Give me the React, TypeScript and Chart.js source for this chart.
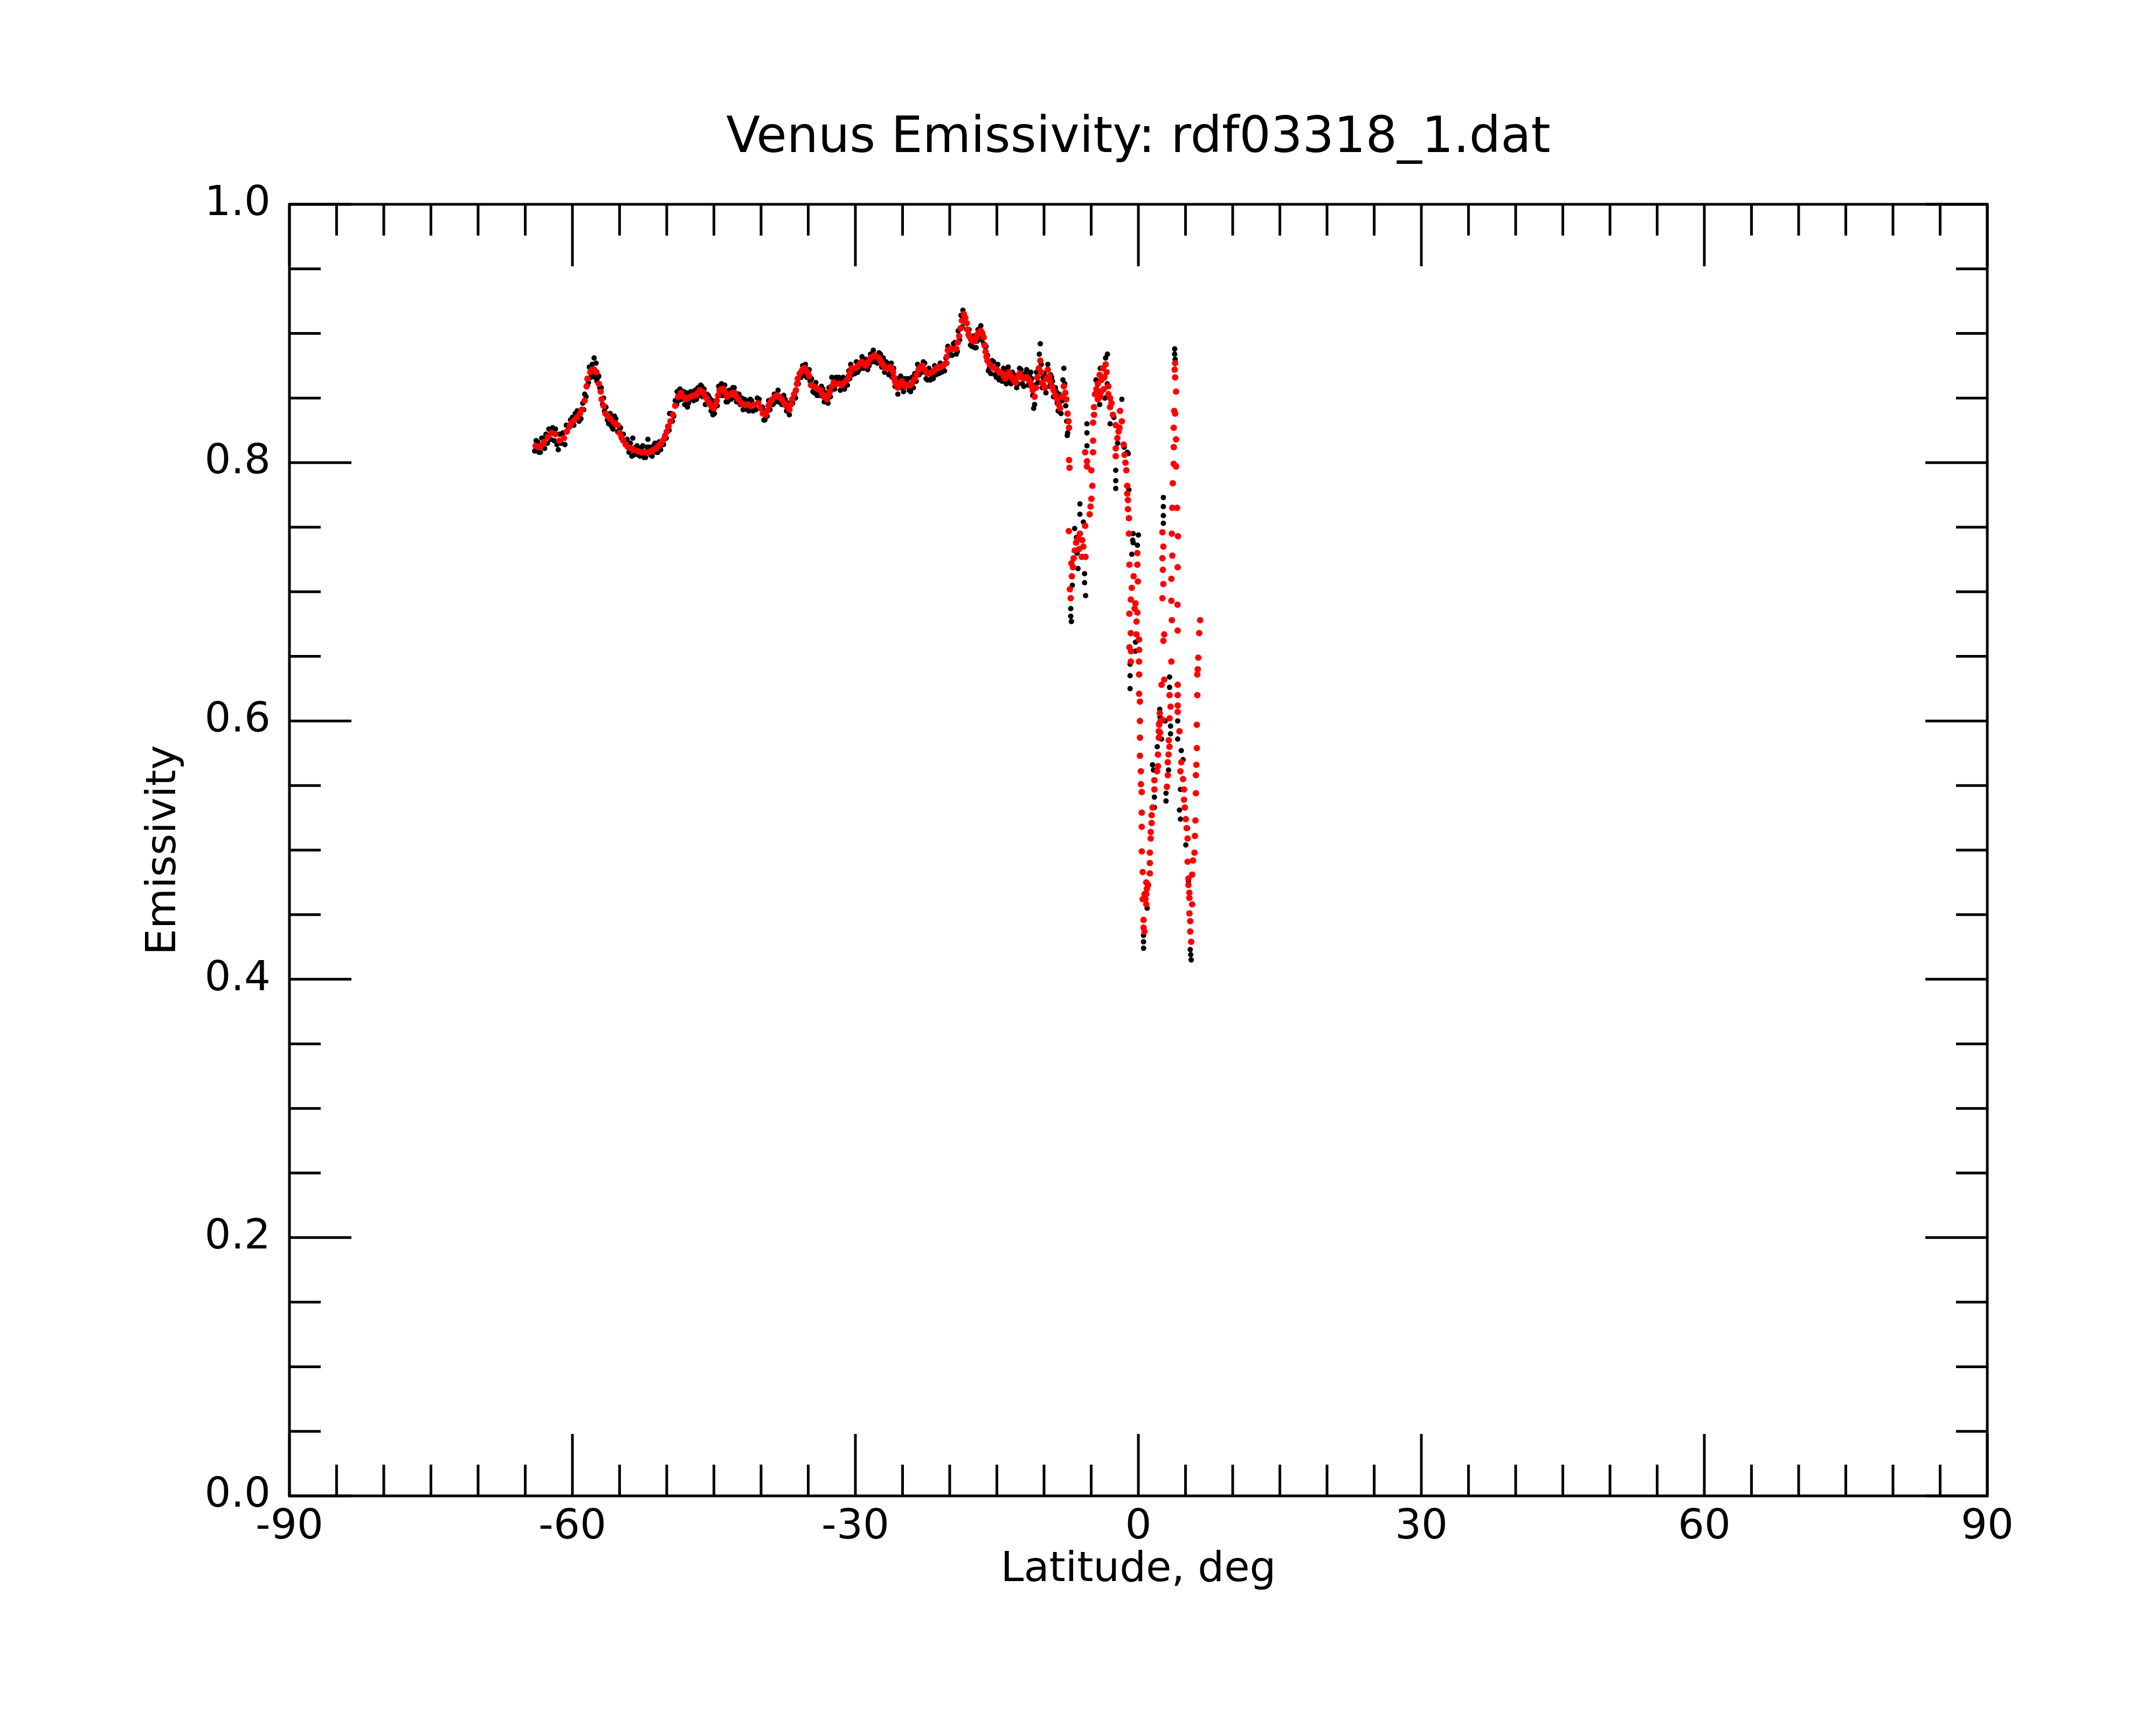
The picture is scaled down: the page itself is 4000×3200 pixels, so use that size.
import React, { useRef, useEffect } from 'react';
import { Chart, registerables } from 'chart.js';

Chart.register(...registerables);

const FONT = '"DejaVu Sans", sans-serif';

const chartTitle = 'Venus Emissivity: rdf03318_1.dat';
const xAxisLabel = 'Latitude, deg';
const yAxisLabel = 'Emissivity';
const xTickValues = [-90, -60, -30, 0, 30, 60, 90];
const yTickValues = [0, 0.2, 0.4, 0.6, 0.8, 1.0];

// [latitude, emissivity]
// red = smoothed profile, main band south of -7 deg
const redBand = [
  [-63.9, 0.813], [-63.5, 0.812], [-63.2, 0.814], [-63.0, 0.816], [-62.6, 0.820], [-62.2, 0.823], [-61.8, 0.822],
  [-61.4, 0.817], [-60.9, 0.819], [-60.6, 0.824], [-60.3, 0.828], [-60.1, 0.831], [-59.8, 0.833], [-59.5, 0.835],
  [-59.2, 0.838], [-59.0, 0.841], [-58.7, 0.848], [-58.5, 0.859], [-58.4, 0.865], [-58.1, 0.870], [-57.9, 0.872],
  [-57.7, 0.872], [-57.45, 0.870], [-57.2, 0.861], [-57.0, 0.855], [-56.9, 0.849], [-56.7, 0.844], [-56.5, 0.838],
  [-56.25, 0.836], [-56.0, 0.834], [-55.6, 0.831], [-55.4, 0.830], [-55.2, 0.829], [-55.0, 0.823], [-54.8, 0.820],
  [-54.6, 0.817], [-54.35, 0.814], [-54.1, 0.812], [-53.8, 0.811], [-53.5, 0.810], [-53.1, 0.809], [-52.7, 0.808],
  [-52.3, 0.808], [-51.9, 0.808], [-51.6, 0.809], [-51.4, 0.810], [-51.1, 0.811], [-50.9, 0.813], [-50.6, 0.815],
  [-50.4, 0.817], [-50.2, 0.820], [-50.0, 0.824], [-49.8, 0.828], [-49.6, 0.832], [-49.35, 0.837], [-49.1, 0.844],
  [-48.8, 0.851], [-48.5, 0.854], [-48.25, 0.851], [-48.0, 0.849], [-47.8, 0.850], [-47.5, 0.851], [-47.2, 0.852],
  [-46.9, 0.852], [-46.7, 0.854], [-46.5, 0.856], [-46.3, 0.855], [-46.1, 0.854], [-45.9, 0.851], [-45.7, 0.849],
  [-45.5, 0.846], [-45.3, 0.844], [-45.0, 0.842], [-44.85, 0.845], [-44.7, 0.848], [-44.55, 0.852], [-44.4, 0.856],
  [-44.2, 0.857], [-44.0, 0.857], [-43.8, 0.854], [-43.6, 0.851], [-43.4, 0.852], [-43.2, 0.853], [-43.0, 0.854],
  [-42.8, 0.854], [-42.6, 0.851], [-42.4, 0.849], [-42.1, 0.846], [-41.8, 0.845], [-41.5, 0.845], [-41.1, 0.844],
  [-40.7, 0.845], [-40.3, 0.846], [-40.05, 0.842], [-39.8, 0.838], [-39.5, 0.837], [-39.35, 0.840], [-39.2, 0.844],
  [-39.0, 0.847], [-38.8, 0.849], [-38.55, 0.851], [-38.3, 0.852], [-38.05, 0.851], [-37.8, 0.849], [-37.55, 0.846],
  [-37.35, 0.844], [-37.0, 0.841], [-36.85, 0.845], [-36.7, 0.849], [-36.5, 0.853], [-36.3, 0.856], [-36.2, 0.861],
  [-36.1, 0.865], [-35.9, 0.869], [-35.7, 0.871], [-35.5, 0.873], [-35.3, 0.873], [-35.1, 0.870], [-34.9, 0.867],
  [-34.7, 0.860], [-34.45, 0.859], [-34.2, 0.858], [-33.95, 0.857], [-33.7, 0.856], [-33.5, 0.853], [-33.35, 0.851],
  [-33.0, 0.849], [-32.85, 0.852], [-32.7, 0.855], [-32.5, 0.859], [-32.3, 0.862], [-32.0, 0.861], [-31.7, 0.861],
  [-31.45, 0.860], [-31.2, 0.862], [-30.9, 0.864], [-30.7, 0.867], [-30.55, 0.870], [-30.4, 0.873], [-30.1, 0.873],
  [-29.8, 0.874], [-29.6, 0.876], [-29.35, 0.878], [-29.1, 0.877], [-28.9, 0.875], [-28.7, 0.877], [-28.5, 0.880],
  [-28.25, 0.882], [-28.0, 0.883], [-27.75, 0.882], [-27.5, 0.881], [-27.35, 0.879], [-27.2, 0.877], [-27.0, 0.875],
  [-26.8, 0.873], [-26.55, 0.873], [-26.3, 0.874], [-26.15, 0.872], [-26.0, 0.870], [-25.9, 0.866], [-25.8, 0.863],
  [-25.65, 0.860], [-25.5, 0.858], [-25.3, 0.861], [-25.1, 0.863], [-24.9, 0.861], [-24.7, 0.859], [-24.45, 0.860],
  [-24.2, 0.860], [-23.95, 0.862], [-23.7, 0.865], [-23.5, 0.868], [-23.3, 0.872], [-23.1, 0.874], [-22.9, 0.875],
  [-22.65, 0.872], [-22.4, 0.869], [-22.15, 0.869], [-21.9, 0.870], [-21.65, 0.871], [-21.4, 0.873], [-21.2, 0.874],
  [-21.0, 0.874], [-20.7, 0.875], [-20.4, 0.877], [-20.3, 0.882], [-20.2, 0.887], [-19.95, 0.888], [-19.7, 0.888],
  [-19.5, 0.888], [-19.3, 0.888], [-19.15, 0.893], [-19.0, 0.898], [-18.85, 0.904], [-18.7, 0.910], [-18.5, 0.915],
  [-18.35, 0.912], [-18.2, 0.908], [-18.1, 0.903], [-18.0, 0.899], [-17.85, 0.897], [-17.7, 0.895], [-17.5, 0.894],
  [-17.35, 0.894], [-17.2, 0.897], [-17.1, 0.899], [-16.9, 0.901], [-16.7, 0.902], [-16.55, 0.900], [-16.4, 0.897],
  [-16.3, 0.891], [-16.2, 0.886], [-16.1, 0.882], [-16.0, 0.879], [-15.75, 0.876], [-15.5, 0.874], [-15.25, 0.873],
  [-15.0, 0.872], [-14.7, 0.870], [-14.4, 0.869], [-14.25, 0.867], [-14.1, 0.865], [-13.9, 0.868], [-13.7, 0.870],
  [-13.5, 0.867], [-13.35, 0.865], [-13.15, 0.863], [-13.0, 0.862], [-12.8, 0.866], [-12.6, 0.869], [-12.4, 0.867],
  [-12.2, 0.865], [-12.0, 0.866], [-11.8, 0.866], [-11.6, 0.864], [-11.45, 0.862], [-11.3, 0.859], [-11.2, 0.856],
  [-11.0, 0.851], [-10.85, 0.858], [-10.7, 0.866], [-10.55, 0.873], [-10.4, 0.879], [-10.3, 0.870], [-10.2, 0.862],
  [-10.05, 0.860], [-9.9, 0.858], [-9.75, 0.865], [-9.6, 0.872], [-9.45, 0.867], [-9.35, 0.863], [-9.15, 0.859],
  [-9.0, 0.856], [-8.8, 0.852], [-8.6, 0.849], [-8.45, 0.845], [-8.3, 0.842], [-8.1, 0.851], [-7.9, 0.859],
  [-7.75, 0.854], [-7.65, 0.849], [-7.5, 0.838], [-7.4, 0.832], [-7.35, 0.827],
];

// red, the broken part near the equator
const redTail = [
  [-7.35, 0.802], [-7.3, 0.796],
  [-7.37, 0.747], [-6.2, 0.745], [-6.75, 0.732], [-5.83, 0.735], [-6.93, 0.719], [-6.0, 0.727], [-7.26, 0.702],
  [-7.17, 0.695], [-6.4, 0.741], [-5.6, 0.727], [-6.6, 0.738], [-7.05, 0.712], [-6.3, 0.733], [-6.85, 0.726],
  [-7.1, 0.722], [-5.95, 0.740],
  [-5.64, 0.751], [-5.16, 0.760], [-5.07, 0.766], [-4.98, 0.772], [-4.88, 0.782], [-4.98, 0.794], [-5.45, 0.797],
  [-5.45, 0.801], [-5.64, 0.808], [-4.8, 0.808], [-4.8, 0.817], [-4.8, 0.831], [-4.7, 0.837], [-4.7, 0.843],
  [-4.6, 0.853], [-4.3, 0.861], [-4.1, 0.868], [-3.75, 0.873], [-3.47, 0.876], [-3.37, 0.870], [-3.66, 0.857],
  [-4.04, 0.851], [-3.18, 0.859], [-3.18, 0.853], [-4.3, 0.849], [-3.94, 0.855], [-3.9, 0.864], [-4.45, 0.857],
  [-3.6, 0.866],
  [-3.0, 0.850], [-3.0, 0.843], [-2.7, 0.837], [-2.4, 0.829], [-2.1, 0.824], [-1.94, 0.840], [-2.23, 0.819],
  [-2.4, 0.811], [-2.4, 0.805], [-1.56, 0.814], [-1.47, 0.806], [-1.37, 0.800], [-1.28, 0.794], [-2.0, 0.827],
  [-1.75, 0.832], [-2.85, 0.846],
  [-1.18, 0.782], [-1.18, 0.776], [-1.1, 0.771], [-1.1, 0.764], [-1.0, 0.757], [-1.0, 0.745],
  [-0.11, 0.730], [-0.95, 0.721], [-0.11, 0.721], [-0.5, 0.712], [-0.05, 0.708], [-0.7, 0.703], [-0.8, 0.694],
  [-0.3, 0.691], [-0.95, 0.683], [-0.4, 0.687], [-0.1, 0.684], [-0.2, 0.677], [-0.8, 0.668], [-0.2, 0.667],
  [0.07, 0.663], [-0.95, 0.657], [-0.8, 0.646], [0.07, 0.646], [-0.78, 0.654], [0.08, 0.655], [0.08, 0.636],
  [0.08, 0.621], [0.17, 0.615], [0.17, 0.600], [0.17, 0.587], [0.17, 0.573], [0.27, 0.561], [0.27, 0.551],
  [0.36, 0.545], [0.36, 0.529], [0.36, 0.518], [0.36, 0.499], [0.46, 0.483], [0.46, 0.462], [0.55, 0.446],
  [0.55, 0.440], [0.65, 0.437],
  [0.84, 0.475], [0.84, 0.466], [0.84, 0.458], [0.65, 0.466], [1.03, 0.473], [1.22, 0.490], [1.22, 0.482],
  [1.22, 0.498], [1.31, 0.509], [1.31, 0.514], [1.41, 0.521], [1.41, 0.527], [1.50, 0.533], [1.70, 0.547],
  [1.70, 0.554], [1.98, 0.561], [2.08, 0.565], [0.9, 0.470], [0.75, 0.462],
  [2.27, 0.606], [2.36, 0.600], [2.17, 0.592], [2.17, 0.587], [2.55, 0.601], [2.08, 0.574], [2.2, 0.597],
  [2.3, 0.591], [2.74, 0.632], [2.46, 0.628], [3.5, 0.646],
  [3.31, 0.620], [3.41, 0.611], [3.31, 0.602], [3.22, 0.585], [3.12, 0.568], [3.12, 0.558], [3.03, 0.549],
  [3.3, 0.580], [3.2, 0.574],
  [4.17, 0.628], [4.17, 0.620], [4.17, 0.612], [4.17, 0.607], [4.36, 0.592],
  [4.55, 0.568], [4.46, 0.561], [4.74, 0.555], [4.84, 0.547], [4.84, 0.539], [4.93, 0.533], [5.03, 0.524],
  [5.12, 0.517], [5.22, 0.509],
  [5.22, 0.491], [5.79, 0.492], [5.70, 0.481], [5.31, 0.478], [5.31, 0.473], [5.41, 0.467], [5.41, 0.463],
  [5.70, 0.458], [5.41, 0.451], [5.50, 0.445], [5.50, 0.437], [5.60, 0.429],
  [6.55, 0.678], [6.45, 0.668], [6.35, 0.649], [6.3, 0.640], [6.25, 0.636], [6.25, 0.620], [6.2, 0.597],
  [6.2, 0.579], [6.15, 0.566], [6.1, 0.558], [6.1, 0.544], [6.05, 0.523], [5.95, 0.498], [6.0, 0.511],
  [3.9, 0.877], [3.85, 0.872], [3.9, 0.866], [4.0, 0.855], [3.8, 0.840], [3.9, 0.838], [3.75, 0.827],
  [4.0, 0.818], [3.75, 0.812], [3.75, 0.799], [4.0, 0.797], [3.65, 0.784], [3.6, 0.765], [4.1, 0.765],
  [2.55, 0.746], [2.65, 0.735], [2.55, 0.726], [2.65, 0.706], [2.55, 0.695], [2.74, 0.667], [2.65, 0.662],
  [3.6, 0.728], [4.17, 0.719], [3.5, 0.693], [4.17, 0.670], [3.55, 0.745], [4.2, 0.743], [4.15, 0.690],
  [3.5, 0.710], [2.6, 0.717], [3.55, 0.678],
];

// black = raw samples, main band (first pass)
const blackBand = [
  [-64.0, 0.809], [-63.7, 0.816], [-63.4, 0.808], [-63.1, 0.819], [-62.8, 0.822], [-62.5, 0.826], [-62.1, 0.827],
  [-61.8, 0.826], [-61.5, 0.810], [-61.2, 0.815], [-60.8, 0.814], [-60.4, 0.827], [-60.0, 0.835], [-59.7, 0.838],
  [-59.3, 0.832], [-58.9, 0.846], [-58.7, 0.853], [-58.4, 0.860], [-58.2, 0.874], [-57.9, 0.876], [-57.7, 0.881],
  [-57.5, 0.877], [-57.3, 0.866], [-57.1, 0.858], [-56.8, 0.845], [-56.6, 0.840], [-56.3, 0.833], [-56.0, 0.838],
  [-55.7, 0.826], [-55.4, 0.834], [-55.0, 0.826], [-54.8, 0.819], [-54.4, 0.814], [-54.0, 0.808], [-53.7, 0.805],
  [-53.6, 0.819], [-53.3, 0.812], [-53.0, 0.806], [-52.7, 0.811], [-52.4, 0.804], [-52.1, 0.812], [-52.0, 0.818],
  [-51.7, 0.806], [-51.4, 0.813], [-51.1, 0.808], [-50.8, 0.816], [-50.5, 0.814], [-50.2, 0.821], [-49.9, 0.828],
  [-49.7, 0.838], [-49.4, 0.832], [-49.1, 0.848], [-48.9, 0.855], [-48.6, 0.857], [-48.3, 0.850], [-48.1, 0.845],
  [-47.8, 0.843], [-47.6, 0.854], [-47.3, 0.849], [-47.0, 0.856], [-46.7, 0.858], [-46.4, 0.860], [-46.2, 0.851],
  [-45.9, 0.845], [-45.6, 0.852], [-45.3, 0.840], [-45.1, 0.837], [-44.8, 0.845], [-44.5, 0.859], [-44.2, 0.861],
  [-43.9, 0.853], [-43.7, 0.847], [-43.4, 0.856], [-43.0, 0.858], [-42.7, 0.850], [-42.5, 0.853], [-42.2, 0.845],
  [-41.9, 0.841], [-41.6, 0.848], [-41.3, 0.840], [-41.0, 0.848], [-40.7, 0.845], [-40.4, 0.850], [-40.0, 0.842],
  [-39.7, 0.833], [-39.5, 0.840], [-39.2, 0.848], [-38.9, 0.845], [-38.6, 0.853], [-38.2, 0.856], [-38.0, 0.847],
  [-37.6, 0.852], [-37.3, 0.840], [-37.0, 0.837], [-36.8, 0.845], [-36.5, 0.853], [-36.2, 0.861], [-35.9, 0.869],
  [-35.6, 0.875], [-35.3, 0.876], [-35.0, 0.870], [-34.8, 0.863], [-34.5, 0.855], [-34.2, 0.862], [-33.9, 0.853],
  [-33.6, 0.859], [-33.3, 0.847], [-33.0, 0.852], [-32.8, 0.858], [-32.5, 0.866], [-32.2, 0.857], [-31.9, 0.865],
  [-31.6, 0.856], [-31.3, 0.866], [-31.0, 0.860], [-30.7, 0.871], [-30.5, 0.876], [-30.2, 0.869], [-29.9, 0.878],
  [-29.6, 0.872], [-29.3, 0.882], [-29.0, 0.879], [-28.7, 0.872], [-28.4, 0.884], [-28.1, 0.887], [-27.8, 0.880],
  [-27.5, 0.885], [-27.2, 0.874], [-26.9, 0.870], [-26.6, 0.877], [-26.3, 0.869], [-26.1, 0.866], [-25.8, 0.859],
  [-25.5, 0.853], [-25.2, 0.867], [-24.9, 0.855], [-24.6, 0.863], [-24.3, 0.856], [-24.0, 0.866], [-23.7, 0.869],
  [-23.4, 0.876], [-23.1, 0.870], [-22.8, 0.878], [-22.5, 0.865], [-22.2, 0.873], [-21.9, 0.866], [-21.6, 0.875],
  [-21.3, 0.869], [-21.0, 0.877], [-20.7, 0.872], [-20.4, 0.881], [-20.2, 0.890], [-19.9, 0.884], [-19.6, 0.892],
  [-19.3, 0.884], [-19.1, 0.902], [-18.8, 0.914], [-18.6, 0.918], [-18.3, 0.912], [-18.1, 0.903], [-17.8, 0.891],
  [-17.5, 0.898], [-17.2, 0.889], [-17.0, 0.903], [-16.7, 0.906], [-16.5, 0.900], [-16.3, 0.890], [-16.0, 0.883],
  [-15.8, 0.873], [-15.5, 0.879], [-15.2, 0.868], [-14.9, 0.876], [-14.6, 0.866], [-14.3, 0.873], [-14.0, 0.861],
  [-13.8, 0.874], [-13.5, 0.861], [-13.2, 0.868], [-12.9, 0.858], [-12.6, 0.873], [-12.3, 0.861], [-12.0, 0.869],
  [-11.7, 0.860], [-11.4, 0.870], [-11.2, 0.852], [-11.1, 0.842], [-11.0, 0.845], [-10.8, 0.870], [-10.5, 0.884],
  [-10.4, 0.892], [-10.2, 0.858], [-10.0, 0.869], [-9.8, 0.854], [-9.6, 0.876], [-9.4, 0.859], [-9.2, 0.866],
  [-9.0, 0.851], [-8.8, 0.858], [-8.6, 0.846], [-8.4, 0.853], [-8.2, 0.838], [-8.0, 0.864], [-7.9, 0.873],
  [-7.7, 0.844], [-7.6, 0.832], [-7.54, 0.821], [-7.5, 0.823],
];

// black, main band (second pass, the other edge of the red line)
const blackBandEdge = [
  [-63.85, 0.817], [-63.55, 0.808], [-63.25, 0.819], [-62.95, 0.811], [-62.65, 0.815], [-62.3, 0.818],
  [-61.95, 0.817], [-61.65, 0.814], [-61.35, 0.822], [-61.0, 0.823], [-60.65, 0.829], [-60.2, 0.833],
  [-59.85, 0.829], [-59.5, 0.840], [-59.1, 0.834], [-58.8, 0.841], [-58.55, 0.851], [-58.3, 0.862],
  [-58.05, 0.866], [-57.8, 0.867], [-57.6, 0.866], [-57.4, 0.863], [-57.2, 0.867], [-56.95, 0.858],
  [-56.7, 0.850], [-56.45, 0.843], [-56.15, 0.830], [-55.85, 0.828], [-55.55, 0.836], [-55.2, 0.824],
  [-54.9, 0.827], [-54.6, 0.822], [-54.2, 0.818], [-53.85, 0.815], [-53.45, 0.806], [-53.15, 0.813],
  [-52.85, 0.805], [-52.55, 0.813], [-52.25, 0.804], [-51.85, 0.812], [-51.55, 0.805], [-51.25, 0.815],
  [-50.95, 0.808], [-50.65, 0.810], [-50.35, 0.814], [-50.05, 0.819], [-49.75, 0.825], [-49.55, 0.838],
  [-49.25, 0.836], [-48.95, 0.845], [-48.75, 0.848], [-48.45, 0.849], [-48.2, 0.855], [-47.95, 0.854],
  [-47.7, 0.846], [-47.45, 0.855], [-47.15, 0.848], [-46.85, 0.849], [-46.55, 0.852], [-46.3, 0.859],
  [-46.05, 0.857], [-45.75, 0.853], [-45.45, 0.850], [-45.2, 0.848], [-44.95, 0.838], [-44.65, 0.844],
  [-44.35, 0.852], [-44.05, 0.852], [-43.85, 0.860], [-43.55, 0.847], [-43.2, 0.849], [-42.85, 0.858],
  [-42.6, 0.847], [-42.35, 0.853], [-42.05, 0.850], [-41.75, 0.849], [-41.45, 0.841], [-41.15, 0.849],
  [-40.85, 0.840], [-40.55, 0.841], [-40.2, 0.849], [-39.85, 0.843], [-39.6, 0.833], [-39.35, 0.836],
  [-39.05, 0.841], [-38.75, 0.845], [-38.45, 0.847], [-38.1, 0.847], [-37.8, 0.845], [-37.45, 0.849],
  [-37.15, 0.846], [-36.95, 0.846], [-36.65, 0.846], [-36.35, 0.850], [-36.05, 0.861], [-35.75, 0.866],
  [-35.45, 0.868], [-35.15, 0.866], [-34.9, 0.872], [-34.65, 0.865], [-34.35, 0.854], [-34.05, 0.852],
  [-33.75, 0.852], [-33.45, 0.857], [-33.15, 0.854], [-32.9, 0.846], [-32.65, 0.851], [-32.35, 0.857],
  [-32.05, 0.866], [-31.75, 0.866], [-31.45, 0.865], [-31.15, 0.857], [-30.85, 0.860], [-30.6, 0.865],
  [-30.35, 0.868], [-30.05, 0.869], [-29.75, 0.870], [-29.45, 0.873], [-29.15, 0.873], [-28.85, 0.880],
  [-28.55, 0.875], [-28.25, 0.878], [-27.95, 0.878], [-27.65, 0.877], [-27.35, 0.884], [-27.05, 0.881],
  [-26.75, 0.878], [-26.45, 0.868], [-26.2, 0.877], [-25.95, 0.873], [-25.65, 0.865], [-25.35, 0.865],
  [-25.05, 0.858], [-24.75, 0.865], [-24.45, 0.865], [-24.15, 0.855], [-23.85, 0.858], [-23.55, 0.863],
  [-23.25, 0.868], [-22.95, 0.870], [-22.65, 0.877], [-22.35, 0.864], [-22.05, 0.864], [-21.75, 0.865],
  [-21.45, 0.868], [-21.15, 0.869], [-20.85, 0.870], [-20.55, 0.871], [-20.3, 0.877], [-20.05, 0.883],
  [-19.75, 0.883], [-19.45, 0.893], [-19.2, 0.886], [-18.95, 0.895], [-18.7, 0.905], [-18.45, 0.909],
  [-18.2, 0.903], [-17.95, 0.903], [-17.65, 0.890], [-17.35, 0.889], [-17.1, 0.894], [-16.85, 0.896],
  [-16.6, 0.895], [-16.4, 0.892], [-16.15, 0.890], [-15.9, 0.871], [-15.65, 0.869], [-15.35, 0.878],
  [-15.05, 0.866], [-14.75, 0.864], [-14.45, 0.863], [-14.15, 0.871], [-13.85, 0.863], [-13.65, 0.864],
  [-13.35, 0.870], [-13.05, 0.867], [-12.75, 0.861], [-12.45, 0.872], [-12.15, 0.859], [-11.85, 0.872],
  [-11.55, 0.868], [-11.3, 0.865], [-10.95, 0.860], [-10.65, 0.862], [-10.3, 0.876], [-10.1, 0.866],
  [-9.85, 0.865], [-9.5, 0.864], [-9.3, 0.868], [-9.1, 0.863], [-8.7, 0.855], [-8.5, 0.840],
  [-8.3, 0.847], [-8.05, 0.848], [-7.8, 0.861],
];

// black, the broken part near the equator
const blackTail = [
  [-6.2, 0.768], [-6.2, 0.760], [-6.75, 0.749], [-5.83, 0.754], [-5.7, 0.714], [-5.7, 0.707], [-5.6, 0.697],
  [-7.17, 0.687], [-7.17, 0.681], [-7.1, 0.677], [-6.57, 0.742], [-6.9, 0.726], [-6.4, 0.718], [-6.5, 0.730],
  [-7.0, 0.705],
  [-5.45, 0.830], [-5.45, 0.823], [-5.45, 0.813],
  [-3.28, 0.884], [-3.47, 0.881], [-4.04, 0.873], [-4.5, 0.864], [-4.1, 0.845], [-3.56, 0.850], [-3.8, 0.866],
  [-4.25, 0.855], [-3.3, 0.861],
  [-1.75, 0.849], [-2.4, 0.794], [-2.4, 0.786], [-2.4, 0.780], [-3.0, 0.830], [-1.18, 0.808], [-2.6, 0.835],
  [-2.2, 0.815], [-1.5, 0.812],
  [-0.55, 0.745], [0.0, 0.744], [-0.55, 0.738], [-0.1, 0.736], [-0.7, 0.729], [-0.3, 0.661], [-0.3, 0.654],
  [-1.07, 0.807], [-1.0, 0.779], [-0.88, 0.644], [-0.88, 0.635], [-0.88, 0.625], [0.55, 0.434], [0.55, 0.429],
  [0.55, 0.424], [-0.6, 0.740],
  [0.84, 0.475], [0.93, 0.455], [1.70, 0.541], [1.70, 0.533], [1.50, 0.566],
  [2.27, 0.609], [2.17, 0.598], [2.46, 0.586], [1.60, 0.562], [2.3, 0.603], [2.0, 0.580],
  [3.31, 0.634], [3.31, 0.626], [3.41, 0.596], [3.41, 0.590], [2.93, 0.544], [2.93, 0.538], [2.84, 0.600],
  [3.2, 0.562],
  [4.17, 0.600], [4.17, 0.586],
  [4.55, 0.577], [4.74, 0.570], [4.46, 0.547], [4.36, 0.531], [4.46, 0.524], [5.03, 0.504], [5.22, 0.517],
  [5.50, 0.423], [5.60, 0.415], [5.31, 0.476], [5.55, 0.419],
  [3.85, 0.888], [3.85, 0.884], [3.9, 0.880],
  [2.65, 0.773], [2.65, 0.766], [2.65, 0.759], [2.65, 0.753],
];

const toPoints = (rows: number[][]) => rows.map(([x, y]) => ({ x, y }));

// box round the plot with inward ticks on all four sides, plus the title
const framePlugin = {
  id: 'frame',
  afterDatasetsDraw(chart: any) {
    const { ctx, chartArea, scales } = chart;
    const { left, right, top, bottom } = chartArea;
    ctx.save();
    ctx.strokeStyle = '#000';
    ctx.lineWidth = 5;
    ctx.beginPath();
    for (let v = -90; v <= 90; v += 5) {
      const px = scales.x.getPixelForValue(v);
      const len = v % 30 === 0 ? 115 : 58;
      ctx.moveTo(px, bottom);
      ctx.lineTo(px, bottom - len);
      ctx.moveTo(px, top);
      ctx.lineTo(px, top + len);
    }
    for (let i = 0; i <= 20; i++) {
      const py = scales.y.getPixelForValue(i * 0.05);
      const len = i % 4 === 0 ? 115 : 58;
      ctx.moveTo(left, py);
      ctx.lineTo(left + len, py);
      ctx.moveTo(right, py);
      ctx.lineTo(right - len, py);
    }
    ctx.stroke();
    ctx.strokeRect(left, top, right - left, bottom - top);

    ctx.fillStyle = '#000';
    ctx.font = `92px ${FONT}`;
    ctx.textAlign = 'center';
    ctx.textBaseline = 'alphabetic';
    ctx.fillText(chartTitle, (left + right) / 2, 282);
    ctx.restore();
  },
};

function App() {
  const chartRef = useRef<HTMLCanvasElement>(null);
  const chartInstance = useRef<any>(null);

  useEffect(() => {
    document.body.style.margin = '0';
    const ctx = chartRef.current!.getContext('2d')!;
    if (chartInstance.current) {
      chartInstance.current.destroy();
    }

    const tickFont = { family: FONT, size: 77 };

    chartInstance.current = new Chart(ctx, {
      type: 'scatter',
      data: {
        datasets: [
          {
            label: 'smoothed',
            data: toPoints([...redBand, ...redTail]),
            backgroundColor: '#ff0000',
            pointRadius: 6,
            pointBorderWidth: 0,
            pointHoverRadius: 6,
          },
          {
            label: 'raw',
            data: toPoints([...blackBand, ...blackBandEdge, ...blackTail]),
            backgroundColor: '#000000',
            pointRadius: 5,
            pointBorderWidth: 0,
            pointHoverRadius: 5,
          },
        ],
      },
      options: {
        responsive: true,
        maintainAspectRatio: false,
        animation: false,
        devicePixelRatio: 1,
        layout: { padding: { top: 379, right: 313, left: 0, bottom: 0 } },
        plugins: {
          legend: { display: false },
          tooltip: { enabled: false },
          title: { display: false },
        },
        scales: {
          x: {
            type: 'linear',
            min: -90,
            max: 90,
            afterBuildTicks: (scale: any) => {
              scale.ticks = xTickValues.map((value) => ({ value }));
            },
            afterFit: (scale: any) => {
              scale.height = 425;
            },
            grid: { display: false },
            border: { display: false },
            ticks: {
              font: tickFont,
              color: '#000',
              padding: 5,
              maxRotation: 0,
              autoSkip: false,
              callback: (v: any) => String(v),
            },
            title: {
              display: true,
              text: xAxisLabel,
              font: tickFont,
              color: '#000',
              padding: { top: 0, bottom: 241 },
            },
          },
          y: {
            type: 'linear',
            min: 0,
            max: 1,
            afterBuildTicks: (scale: any) => {
              scale.ticks = yTickValues.map((value) => ({ value }));
            },
            afterFit: (scale: any) => {
              scale.width = 537;
            },
            grid: { display: false },
            border: { display: false },
            ticks: {
              font: tickFont,
              color: '#000',
              padding: 27,
              autoSkip: false,
              callback: (v: any) => Number(v).toFixed(1),
            },
            title: {
              display: true,
              text: yAxisLabel,
              font: tickFont,
              color: '#000',
              padding: { top: 259, bottom: 0 },
            },
          },
        },
      },
      plugins: [framePlugin],
    });

    return () => {
      if (chartInstance.current) {
        chartInstance.current.destroy();
        chartInstance.current = null;
      }
    };
  }, []);

  return (
    <div style={{ width: 4000, height: 3200, position: 'relative', background: '#fff' }}>
      <canvas ref={chartRef}></canvas>
    </div>
  );
}

export default App;
